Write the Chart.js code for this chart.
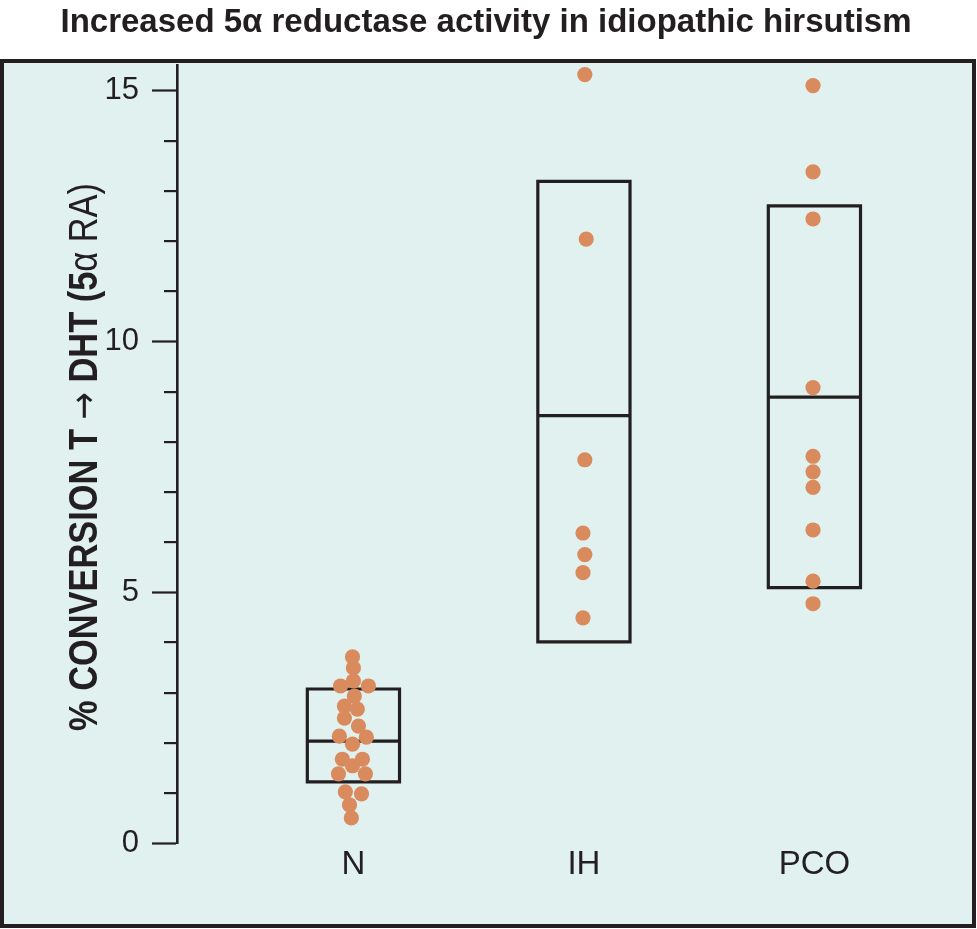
<!DOCTYPE html>
<html>
<head>
<meta charset="utf-8">
<script src="https://cdn.jsdelivr.net/npm/chart.js@4.4.1/dist/chart.umd.min.js"></script>
<style>
  html, body { margin: 0; padding: 0; background: #ffffff; }
  #c { display: block; }
</style>
</head>
<body>
<canvas id="c" width="977" height="929"></canvas>
<script>
// ---- data ----
const titleText = 'Increased 5\u03b1 reductase activity in idiopathic hirsutism';
const yTitleParts = [
  { text: '% CONVERSION T ', weight: 'bold', family: 'main' },
  { text: '\u2192', weight: 'normal', family: 'arrow' },
  { text: ' DHT (5', weight: 'bold', family: 'main' },
  { text: '\u03b1 RA)', weight: 'normal', family: 'main' }
];
const categories = ['N', 'IH', 'PCO'];

const nValues = [3.71, 3.49, 3.23, 3.13, 3.13, 2.93, 2.73, 2.67, 2.49, 2.33, 2.13, 2.11,
                 1.97, 1.67, 1.67, 1.54, 1.38, 1.38, 1.02, 0.98, 0.76, 0.50];
const nJitter = [-0.004, 0, 0, -0.056, 0.065, 0.004, -0.039, 0.017, -0.039, 0.022, -0.061, 0.056,
                 -0.004, -0.048, 0.039, -0.004, -0.065, 0.052, -0.035, 0.035, -0.017, -0.009];
const ihValues = [15.32, 12.04, 7.64, 6.18, 5.75, 5.39, 4.49];
const ihJitter = [0.004, 0.01, 0.004, -0.004, 0.004, -0.004, -0.004];
const pcoValues = [15.10, 13.38, 12.44, 9.08, 7.71, 7.40, 7.09, 6.24, 5.22, 4.77];
const pcoJitter = [-0.006, -0.006, -0.006, -0.006, -0.006, -0.006, -0.006, -0.006, -0.006, -0.006];

const boxLow    = [1.22, 4.01, 5.09];
const boxMedian = [2.03, 8.52, 8.89];
const boxHigh   = [3.07, 13.19, 12.70];

const yMajorTicks = [0, 5, 10, 15];
const yMinorTicks = [1, 2, 3, 4, 6, 7, 8, 9, 11, 12, 13, 14];
const yMin = 0, yMax = 15.51;
const xMin = 0.2346, xMax = 3.6724;

// ---- styles ----
const FONT = '"Liberation Sans", Arial, Helvetica, sans-serif';
const ARROW_FONT = '"DejaVu Sans", sans-serif';
const INK = '#231f20';
const PANEL = '#e1f1ef';
const DOT = '#d98b5e';
const BOX_HALF = 0.2;

function groupPoints(idx, values, jitter) {
  return values.map((v, i) => ({ x: idx + 1 + jitter[i], y: v }));
}
function boxPath(i) {
  const c = i + 1, l = c - BOX_HALF, r = c + BOX_HALF;
  return [
    { x: l, y: boxMedian[i] }, { x: r, y: boxMedian[i] },
    { x: r, y: boxHigh[i] }, { x: l, y: boxHigh[i] },
    { x: l, y: boxLow[i] }, { x: r, y: boxLow[i] },
    { x: r, y: boxMedian[i] }
  ];
}

const datasets = [];
categories.forEach((c, i) => {
  datasets.push({
    label: c + ' box', data: boxPath(i), showLine: true, pointRadius: 0,
    borderColor: INK, borderWidth: 3.2, borderJoinStyle: 'miter', fill: false,
    tension: 0, order: 2
  });
});
[[nValues, nJitter], [ihValues, ihJitter], [pcoValues, pcoJitter]].forEach((g, i) => {
  datasets.push({
    label: categories[i], data: groupPoints(i, g[0], g[1]), showLine: false,
    pointRadius: 7.6, pointBorderWidth: 0, pointBackgroundColor: DOT,
    pointBorderColor: DOT, order: 1
  });
});

const panelPlugin = {
  id: 'panel',
  beforeDraw(chart) {
    const ctx = chart.ctx;
    ctx.save();
    ctx.fillStyle = '#ffffff';
    ctx.fillRect(0, 0, chart.width, chart.height);
    ctx.fillStyle = PANEL;
    ctx.fillRect(2, 61, 972, 865);
    ctx.strokeStyle = INK;
    ctx.lineWidth = 4;
    ctx.strokeRect(2, 61, 972, 865);
    ctx.restore();
  }
};

const minorTickPlugin = {
  id: 'minorTicks',
  afterDraw(chart) {
    const ctx = chart.ctx, y = chart.scales.y, left = chart.chartArea.left;
    ctx.save();
    ctx.strokeStyle = INK;
    ctx.lineWidth = 2.2;
    yMinorTicks.forEach(v => {
      const py = Math.round(y.getPixelForValue(v)) + 0.1;
      ctx.beginPath();
      ctx.moveTo(left - 13, py);
      ctx.lineTo(left, py);
      ctx.stroke();
    });
    ctx.restore();
  }
};

const yTitlePlugin = {
  id: 'yTitle',
  afterDraw(chart) {
    const ctx = chart.ctx, area = chart.chartArea;
    const size = 40, squeeze = 0.86;
    const fontOf = p => (p.weight === 'bold' ? 'bold ' : '') +
      (p.family === 'arrow' ? (size * 0.95) : size) + 'px ' +
      (p.family === 'arrow' ? ARROW_FONT : FONT);
    ctx.save();
    ctx.fillStyle = INK;
    ctx.textBaseline = 'alphabetic';
    ctx.textAlign = 'left';
    const widths = yTitleParts.map(p => { ctx.font = fontOf(p); return ctx.measureText(p.text).width; });
    const total = widths.reduce((a, b) => a + b, 0);
    const cy = (area.top + area.bottom) / 2 + 3;
    ctx.translate(97, cy);
    ctx.rotate(-Math.PI / 2);
    ctx.scale(squeeze, 1);
    let xpos = -total / 2;
    yTitleParts.forEach((p, i) => {
      ctx.font = fontOf(p);
      ctx.fillText(p.text, xpos, p.family === 'arrow' ? -1 : 0);
      xpos += widths[i];
    });
    ctx.restore();
  }
};

new Chart(document.getElementById('c'), {
  type: 'scatter',
  data: { datasets },
  options: {
    responsive: false,
    animation: false,
    events: [],
    layout: { padding: { left: 0, right: 5, top: 0, bottom: 0 } },
    plugins: {
      legend: { display: false },
      tooltip: { enabled: false },
      title: {
        display: true, text: titleText, color: INK,
        font: { family: FONT, size: 33, weight: 'bold', lineHeight: 1.2 },
        padding: { top: 3, bottom: 22.4 }
      }
    },
    scales: {
      x: {
        type: 'linear', min: xMin, max: xMax,
        afterBuildTicks: s => { s.ticks = categories.map((c, i) => ({ value: i + 1 })); },
        afterFit: s => { s.height = 86; },
        ticks: {
          callback: v => categories[Math.round(v) - 1] || '',
          color: INK, font: { family: FONT, size: 33 }, padding: 2, maxRotation: 0, autoSkip: false
        },
        grid: { display: false, drawTicks: false },
        border: { display: false }
      },
      y: {
        type: 'linear', min: yMin, max: yMax,
        afterBuildTicks: s => { s.ticks = yMajorTicks.map(v => ({ value: v })); },
        afterFit: s => { s.width = 177; },
        ticks: { color: INK, font: { family: FONT, size: 31 }, padding: 13, autoSkip: false },
        grid: { display: true, drawOnChartArea: false, drawTicks: true, tickLength: 25,
                tickColor: INK, tickWidth: 2.2 },
        border: { display: true, color: INK, width: 2.6 }
      }
    }
  },
  plugins: [panelPlugin, minorTickPlugin, yTitlePlugin]
});
</script>
</body>
</html>
